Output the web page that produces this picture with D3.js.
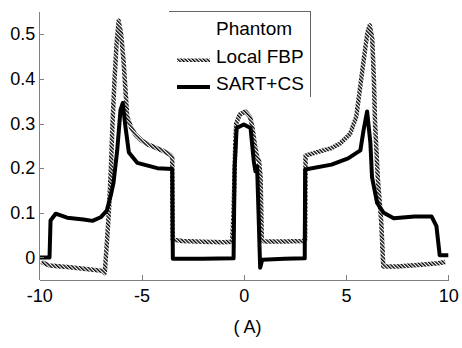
<!DOCTYPE html>
<html>
<head>
<meta charset="utf-8">
<script src="https://cdn.jsdelivr.net/npm/d3@7"></script>
<style>
  body { margin: 0; background: #fff; }
  text { font-family: 'Liberation Sans', Arial, sans-serif; fill: #000; }
  .axis path, .axis line { stroke: #808080; shape-rendering: crispEdges; }
  .axis text { font-size: 18px; }
</style>
</head>
<body>
<svg id="chart"></svg>
<script>
'use strict';

var xTicks = [-10, -5, 0, 5, 10]
var xTickLabels = ['-10', '-5', '0', '5', '10']
var yTicks = [0, 0.1, 0.2, 0.3, 0.4, 0.5]
var yTickLabels = ['0', '0.1', '0.2', '0.3', '0.4', '0.5']
var seriesNames = ['Phantom', 'Local FBP', 'SART+CS']

var phantomX = [-10, -9.5, -9.5, -6.8, -6.8, -3.5, -3.5, -0.5, -0.5, 0.8, 0.8, 3, 3, 6.8, 6.8, 9.5, 9.5, 10]
var phantomY = [0, 0, 0.09, 0.09, 0.2, 0.2, 0, 0, 0.3, 0.3, 0, 0, 0.2, 0.2, 0.09, 0.09, 0, 0]

var fbpX = [-9.9, -9.5, -8.5, -7.5, -6.9, -6.8, -6.7, -6.6, -6.5, -6.42, -6.32, -6.22, -6.12, -6.0, -5.88,
  -5.78, -5.7, -5.5, -5.3, -5.0, -4.64, -4.0, -3.6, -3.5, -3.48, -3.0, -2.0, -1.0, -0.57, -0.5, -0.42,
  -0.37, -0.2, 0.08, 0.3, 0.41, 0.55, 0.65, 0.75, 0.82, 0.88, 1.0, 2.0, 2.9, 3.0, 3.02, 3.5, 4.29, 4.7,
  5.2, 5.5, 5.7, 5.9, 6.05, 6.16, 6.28, 6.36, 6.42, 6.55, 6.72, 6.82, 7.5, 8.5, 9.5, 9.85]
var fbpY = [-0.01, -0.018, -0.022, -0.027, -0.03, -0.035, 0.03, 0.1, 0.2, 0.3, 0.4, 0.48, 0.53, 0.5, 0.44,
  0.37, 0.315, 0.29, 0.275, 0.262, 0.252, 0.24, 0.23, 0.225, 0.04, 0.037, 0.035, 0.034, 0.035, 0.1, 0.25,
  0.3, 0.32, 0.327, 0.315, 0.295, 0.25, 0.225, 0.215, 0.18, 0.04, 0.036, 0.036, 0.037, 0.04, 0.228, 0.235, 0.245, 0.255,
  0.277, 0.315, 0.385, 0.455, 0.505, 0.52, 0.49, 0.4, 0.3, 0.18, 0.08, -0.02, -0.02, -0.017, -0.013, -0.01]

var sartX = [-10, -9.5, -9.45, -9.2, -8.64, -7.84, -7.4, -7.0, -6.7, -6.5, -6.37, -6.19, -6.03, -5.92,
  -5.79, -5.62, -5.21, -4.23, -3.5, -3.47, -2.0, -0.5, -0.45, -0.35, 0.0, 0.33, 0.49, 0.57, 0.65, 0.72,
  0.8, 0.9, 2.0, 2.98, 3.0, 4.29, 5.1, 5.7, 5.86, 6.03, 6.19, 6.27, 6.52, 6.84, 7.33, 8.35, 9.18, 9.42,
  9.58, 10]
var sartY = [0, 0, 0.083, 0.098, 0.089, 0.085, 0.082, 0.09, 0.105, 0.14, 0.168, 0.24, 0.33, 0.346,
  0.294, 0.235, 0.212, 0.2, 0.198, -0.003, -0.003, -0.002, 0.2, 0.29, 0.298, 0.29, 0.215, 0.193, 0.204, 0.1,
  -0.023, -0.005, -0.003, -0.002, 0.197, 0.208, 0.222, 0.24, 0.286, 0.327, 0.257, 0.18, 0.122, 0.1, 0.088, 0.092, 0.092, 0.07,
  0.005, 0.005]

var width = 462,
  height = 348

var svg = d3.select('#chart')
  .attr('width', width)
  .attr('height', height)

var defs = svg.append('defs')
defs.append('pattern')
  .attr('id', 'hatch')
  .attr('patternUnits', 'userSpaceOnUse')
  .attr('width', 2.6)
  .attr('height', 2.6)
  .attr('patternTransform', 'rotate(-45)')
  .append('rect')
  .attr('x', 0)
  .attr('y', 0)
  .attr('width', 1.4)
  .attr('height', 2.6)
  .attr('fill', '#000')

var xScale = d3.scaleLinear()
  .domain([-10, 10])
  .range([39.3, 448.3])

var yScale = d3.scaleLinear()
  .domain([-0.05, 0.55])
  .range([279.8, 11.9])

function toPoints(xs, ys) {
  return xs.map(function(x, i) {
    return [x, ys[i]]
  })
}

var line = d3.line()
  .x(function(d) { return xScale(d[0]) })
  .y(function(d) { return yScale(d[1]) })

// phantom is white in the original, so it stays hidden under the others
svg.append('path')
  .datum(toPoints(phantomX, phantomY))
  .attr('d', line)
  .attr('fill', 'none')
  .attr('stroke', '#fff')
  .attr('stroke-width', 2)

svg.append('path')
  .datum(toPoints(fbpX, fbpY))
  .attr('d', line)
  .attr('fill', 'none')
  .attr('stroke', 'url(#hatch)')
  .attr('stroke-width', 4.5)
  .attr('stroke-linejoin', 'round')

svg.append('path')
  .datum(toPoints(sartX, sartY))
  .attr('d', line)
  .attr('fill', 'none')
  .attr('stroke', '#000')
  .attr('stroke-width', 4)
  .attr('stroke-linejoin', 'round')

var xAxis = d3.axisBottom(xScale)
  .tickValues(xTicks)
  .tickFormat(function(d, i) { return xTickLabels[i] })
  .tickSizeInner(-5)
  .tickSizeOuter(0)
  .tickPadding(9.5)

var yAxis = d3.axisLeft(yScale)
  .tickValues(yTicks)
  .tickFormat(function(d, i) { return yTickLabels[i] })
  .tickSizeInner(-5)
  .tickSizeOuter(0)
  .tickPadding(4)

svg.append('g')
  .attr('class', 'axis')
  .attr('transform', 'translate(0,' + yScale(-0.05) + ')')
  .call(xAxis)

svg.append('g')
  .attr('class', 'axis')
  .attr('transform', 'translate(' + xScale(-10) + ',0)')
  .call(yAxis)

svg.selectAll('.axis text')
  .attr('fill', '#000')
  .style('font-family', "'Liberation Sans', Arial, sans-serif")
  .style('font-size', '18px')

svg.append('text')
  .attr('x', 247.5)
  .attr('y', 333)
  .attr('text-anchor', 'middle')
  .style('font-size', '18px')
  .text('( A)')

// legend: only top and right edges show in the original
var legend = svg.append('g')
legend.append('path')
  .attr('d', 'M169,11.7H310.7V97')
  .attr('fill', 'none')
  .attr('stroke', '#666')
  .attr('stroke-width', 1)
  .attr('shape-rendering', 'crispEdges')

var legendRows = [
  { stroke: '#fff', width: 2, baseline: 35 },
  { stroke: 'url(#hatch)', width: 3.5, baseline: 63.3 },
  { stroke: '#000', width: 4, baseline: 90 }
]

legendRows.forEach(function(r, i) {
  legend.append('line')
    .attr('x1', 177)
    .attr('x2', 210)
    .attr('y1', r.baseline - 3)
    .attr('y2', r.baseline - 3)
    .attr('stroke', r.stroke)
    .attr('stroke-width', r.width)
  legend.append('text')
    .attr('x', 216)
    .attr('y', r.baseline)
    .style('font-size', '19px')
    .text(seriesNames[i])
})
</script>
</body>
</html>
